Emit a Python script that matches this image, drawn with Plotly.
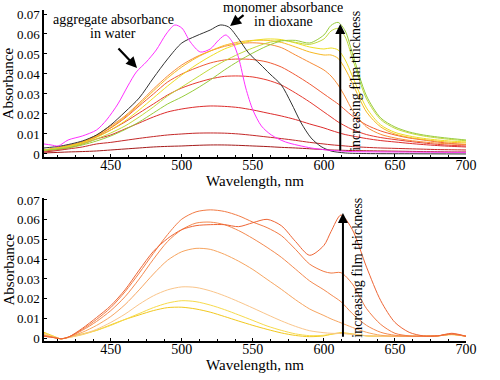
import plotly.graph_objects as go

# ---------------- data: top panel ----------------
WL_TOP = [403, 410, 420, 430, 440, 450, 460, 470, 480, 490, 500, 510, 520, 530, 540, 550,
          560, 570, 580, 590, 600, 605, 610, 615, 620, 630, 640, 650, 660, 670, 680, 690, 700]

FILM_1 = [0.0005, 0.0007, 0.001, 0.0012, 0.0015, 0.002, 0.0025, 0.003, 0.0035, 0.0038, 0.004, 0.0043,
          0.0045, 0.0045, 0.0043, 0.004, 0.0037, 0.0033, 0.003, 0.0026, 0.0022, 0.002, 0.0019, 0.0018,
          0.0017, 0.0016, 0.0015, 0.0014, 0.0013, 0.0012, 0.0011, 0.001, 0.001]
FILM_2 = [0.001, 0.0015, 0.0025, 0.0035, 0.005, 0.0058, 0.0068, 0.0078, 0.0087, 0.0095, 0.01, 0.0104,
          0.0105, 0.0104, 0.01, 0.0093, 0.0085, 0.0077, 0.0068, 0.0058, 0.005, 0.0046, 0.0043, 0.004,
          0.0037, 0.0033, 0.003, 0.0028, 0.0026, 0.0024, 0.0022, 0.0021, 0.002]
FILM_3 = [0.0015, 0.002, 0.003, 0.005, 0.0075, 0.0095, 0.0125, 0.0155, 0.0185, 0.021, 0.0225, 0.0235,
          0.024, 0.0238, 0.0232, 0.022, 0.0205, 0.019, 0.0172, 0.015, 0.013, 0.0118, 0.0107, 0.0097,
          0.009, 0.0077, 0.0067, 0.006, 0.0053, 0.0047, 0.0042, 0.0038, 0.0035]
FILM_4 = [0.002, 0.0025, 0.0035, 0.0055, 0.0085, 0.012, 0.016, 0.0205, 0.025, 0.0295, 0.033, 0.0355,
          0.0375, 0.0388, 0.039, 0.0385, 0.037, 0.0345, 0.0305, 0.026, 0.021, 0.0185, 0.016, 0.014,
          0.0122, 0.0097, 0.0082, 0.0072, 0.0063, 0.0055, 0.0048, 0.0043, 0.004]
FILM_5 = [0.002, 0.0025, 0.004, 0.006, 0.009, 0.013, 0.018, 0.024, 0.030, 0.036, 0.040, 0.043,
          0.0455, 0.047, 0.0475, 0.0472, 0.046, 0.0435, 0.0395, 0.035, 0.030, 0.0275, 0.025, 0.022,
          0.019, 0.0145, 0.0115, 0.0095, 0.008, 0.007, 0.006, 0.0052, 0.0047]
FILM_6 = [0.002, 0.0028, 0.0042, 0.006, 0.0095, 0.014, 0.019, 0.0255, 0.0325, 0.039, 0.0445, 0.0485,
          0.0515, 0.0538, 0.0552, 0.0556, 0.055, 0.0532, 0.0495, 0.0458, 0.042, 0.039, 0.0345, 0.0285,
          0.022, 0.0135, 0.0098, 0.008, 0.0068, 0.006, 0.0054, 0.005, 0.0047]
FILM_7 = [0.002, 0.0028, 0.004, 0.006, 0.009, 0.0133, 0.0185, 0.0248, 0.0315, 0.038, 0.0435, 0.048,
          0.0515, 0.0543, 0.056, 0.0568, 0.0568, 0.0558, 0.0535, 0.051, 0.0495, 0.0495, 0.0478, 0.0425,
          0.0355, 0.021, 0.0135, 0.010, 0.0083, 0.0072, 0.0064, 0.0058, 0.0055]
FILM_8 = [0.002, 0.0026, 0.0037, 0.0055, 0.0083, 0.012, 0.0165, 0.022, 0.028, 0.034, 0.0395, 0.0445,
          0.0488, 0.0525, 0.055, 0.0567, 0.0575, 0.0572, 0.0555, 0.0535, 0.0525, 0.053, 0.052, 0.047,
          0.039, 0.023, 0.0145, 0.0108, 0.009, 0.0078, 0.007, 0.0064, 0.006]
FILM_9 = [0.002, 0.0025, 0.0035, 0.005, 0.0075, 0.0105, 0.014, 0.0185, 0.0235, 0.029, 0.0335, 0.038,
          0.0425, 0.0465, 0.05, 0.053, 0.0555, 0.0568, 0.0558, 0.0548, 0.0575, 0.0615, 0.0628, 0.0585,
          0.048, 0.0275, 0.0172, 0.0128, 0.0105, 0.009, 0.008, 0.0072, 0.0066]
FILM_10 = [0.0018, 0.0022, 0.003, 0.0045, 0.0065, 0.009, 0.0122, 0.016, 0.0205, 0.025, 0.0285, 0.0325,
           0.037, 0.042, 0.0465, 0.0505, 0.054, 0.0565, 0.0568, 0.0555, 0.0595, 0.0643, 0.0658, 0.0615,
           0.0505, 0.029, 0.018, 0.0135, 0.011, 0.0095, 0.0085, 0.0077, 0.007]

TOP_FILMS = [FILM_1, FILM_2, FILM_3, FILM_4, FILM_5, FILM_6, FILM_7, FILM_8, FILM_9, FILM_10]
TOP_COLORS = ['#A51A1A', '#C42828', '#DD2C2C', '#E63A30', '#F05A35', '#F88C38',
              '#F8B820', '#EEDE22', '#C2DA3C', '#98CC3C']

WL_MONO = [403, 415, 430, 440, 450, 460, 470, 480, 490, 500, 510, 520, 527, 533, 540, 547, 555,
           562, 570, 577, 584, 591, 598, 605, 615, 630, 660, 700]
ABS_MONO = [0.003, 0.004, 0.0065, 0.0095, 0.0145, 0.021, 0.028, 0.038, 0.0475, 0.0555, 0.059, 0.062,
            0.0645, 0.0635, 0.0575, 0.0505, 0.045, 0.040, 0.0345, 0.0255, 0.0155, 0.008, 0.0037,
            0.0015, 0.0005, 0.0002, 0.0001, 0.0]

WL_AGG = [403, 408, 413, 420, 430, 440, 447, 455, 462, 468, 475, 482, 489, 495, 500, 506, 513, 520,
          526, 531, 536, 540, 545, 550, 556, 563, 573, 591, 605, 620, 650, 700]
ABS_AGG = [0.005, 0.0045, 0.004, 0.007, 0.009, 0.012, 0.017, 0.025, 0.034, 0.041, 0.046, 0.052, 0.060,
           0.0645, 0.063, 0.056, 0.051, 0.0525, 0.057, 0.0595, 0.0555, 0.048, 0.033, 0.022, 0.014,
           0.0095, 0.006, 0.003, 0.0018, 0.0012, 0.001, 0.0008]

# ---------------- data: bottom panel ----------------
WL_BOT = [403, 410, 415, 420, 430, 440, 450, 460, 470, 480, 490, 500, 510, 520, 530, 540, 550,
          560, 570, 580, 590, 600, 605, 612, 620, 630, 640, 650, 660, 670, 680, 690, 700]

BOT_1 = [0.003, 0.001, -0.0003, 0.0005, 0.0022, 0.004, 0.0068, 0.0095, 0.0118, 0.014, 0.0155, 0.0157,
         0.0148, 0.0132, 0.011, 0.0087, 0.0065, 0.0045, 0.0027, 0.0014, 0.0008, 0.0012, 0.002, 0.0028,
         0.0022, 0.0012, 0.001, 0.001, 0.001, 0.001, 0.0012, 0.0018, 0.001]
BOT_2 = [0.0025, 0.0008, -0.0003, 0.0003, 0.0018, 0.004, 0.0065, 0.0095, 0.0125, 0.0155, 0.0178, 0.019,
         0.0185, 0.0168, 0.0145, 0.0118, 0.009, 0.0062, 0.004, 0.0022, 0.0013, 0.0015, 0.002, 0.0025,
         0.002, 0.0012, 0.001, 0.001, 0.001, 0.001, 0.0012, 0.002, 0.001]
BOT_3 = [0.002, 0.0005, -0.0003, 0.0003, 0.002, 0.0045, 0.008, 0.0122, 0.0172, 0.0215, 0.0245, 0.026,
         0.0257, 0.024, 0.0215, 0.0185, 0.0153, 0.012, 0.0088, 0.006, 0.0038, 0.0028, 0.0025, 0.0024,
         0.002, 0.0013, 0.001, 0.001, 0.001, 0.001, 0.0012, 0.002, 0.001]
BOT_4 = [0.0015, 0.0004, -0.0003, 0.0005, 0.003, 0.0065, 0.011, 0.017, 0.0245, 0.0325, 0.0395, 0.0438,
         0.0455, 0.045, 0.0425, 0.039, 0.0348, 0.0298, 0.0248, 0.0195, 0.0148, 0.0115, 0.0098, 0.0078,
         0.0055, 0.003, 0.0015, 0.001, 0.001, 0.001, 0.0012, 0.002, 0.001]
BOT_5 = [0.0015, 0.0004, -0.0003, 0.0005, 0.004, 0.0085, 0.014, 0.021, 0.030, 0.040, 0.049, 0.055,
         0.0583, 0.0588, 0.0575, 0.0545, 0.0505, 0.046, 0.041, 0.035, 0.029, 0.0245, 0.022, 0.0185,
         0.0125, 0.0065, 0.003, 0.0015, 0.001, 0.001, 0.0012, 0.002, 0.001]
BOT_6 = [0.001, 0.0003, -0.0003, 0.0005, 0.0045, 0.0095, 0.0155, 0.0235, 0.033, 0.043, 0.0525, 0.0603,
         0.064, 0.065, 0.0642, 0.062, 0.0588, 0.056, 0.052, 0.045, 0.0375, 0.0338, 0.033, 0.0332,
         0.0275, 0.015, 0.007, 0.0025, 0.0012, 0.001, 0.0012, 0.0022, 0.001]
BOT_7 = [0.001, 0.0003, -0.0003, 0.0005, 0.005, 0.0105, 0.0165, 0.0245, 0.0345, 0.044, 0.0505, 0.055,
         0.057, 0.0575, 0.0575, 0.0565, 0.0585, 0.0602, 0.057, 0.049, 0.042, 0.047, 0.054, 0.0624,
         0.055, 0.036, 0.019, 0.008, 0.003, 0.0012, 0.0012, 0.0025, 0.001]

BOT_FILMS = [BOT_1, BOT_2, BOT_3, BOT_4, BOT_5, BOT_6, BOT_7]
BOT_COLORS = ['#F2C81E', '#F7DA4A', '#FAC58A', '#F7A560', '#F48A50', '#F27B45', '#EE6535']

X_TICKS = [450, 500, 550, 600, 650, 700]
Y_TICKS = [0, 0.01, 0.02, 0.03, 0.04, 0.05, 0.06, 0.07]
Y_LABELS = ['0', '0.01', '0.02', '0.03', '0.04', '0.05', '0.06', '0.07']

FONT = '"Liberation Serif", "Times New Roman", Times, "DejaVu Serif", serif'

fig = go.Figure()

for vals, col in zip(TOP_FILMS, TOP_COLORS):
    fig.add_trace(go.Scatter(x=WL_TOP, y=vals, mode='lines', xaxis='x', yaxis='y',
                             line=dict(color=col, width=1, shape='spline', smoothing=0.8),
                             showlegend=False, hoverinfo='skip'))
fig.add_trace(go.Scatter(x=WL_MONO, y=ABS_MONO, mode='lines', xaxis='x', yaxis='y',
                         line=dict(color='#333333', width=1, shape='spline', smoothing=0.8),
                         showlegend=False, hoverinfo='skip'))
fig.add_trace(go.Scatter(x=WL_AGG, y=ABS_AGG, mode='lines', xaxis='x', yaxis='y',
                         line=dict(color='#FF30FF', width=1, shape='spline', smoothing=0.8),
                         showlegend=False, hoverinfo='skip'))

for vals, col in zip(BOT_FILMS, BOT_COLORS):
    fig.add_trace(go.Scatter(x=WL_BOT, y=vals, mode='lines', xaxis='x2', yaxis='y2',
                             line=dict(color=col, width=1, shape='spline', smoothing=0.8),
                             showlegend=False, hoverinfo='skip'))

xcommon = dict(range=[403, 700], tickvals=X_TICKS, ticks='inside', ticklen=3, tickcolor='black',
               showline=True, linecolor='black', linewidth=2, showgrid=False, zeroline=False,
               tickfont=dict(family=FONT, size=14, color='black'),
               minor=dict(ticks='inside', dtick=12.5, tick0=400, ticklen=2, tickcolor='black'),
               ticklabelstandoff=-6, automargin=False)
ycommon = dict(tickvals=Y_TICKS, ticktext=Y_LABELS, ticks='inside', ticklen=3, tickcolor='black',
               showline=True, linecolor='black', linewidth=1.5, showgrid=False, zeroline=False,
               tickfont=dict(family=FONT, size=13, color='black'), automargin=False)

fig.update_layout(
    width=500, height=380,
    margin=dict(l=44, r=34, t=10, b=39),
    paper_bgcolor='white', plot_bgcolor='white',
    font=dict(family=FONT, color='black'),
    xaxis=dict(anchor='y', domain=[0, 1],
               title=dict(text='Wavelength, nm', font=dict(family=FONT, size=15), standoff=0),
               **xcommon),
    yaxis=dict(anchor='x', domain=[0.556, 1], range=[-0.0015, 0.072], **ycommon),
    xaxis2=dict(anchor='y2', domain=[0, 1],
                title=dict(text='Wavelength, nm', font=dict(family=FONT, size=15), standoff=0),
                **xcommon),
    yaxis2=dict(anchor='x2', domain=[0, 0.432], range=[-0.0014, 0.071], **ycommon),
)

afont = dict(family=FONT, size=14, color='black')
tfont = dict(family=FONT, size=15, color='black')
annotations = [
    # y-axis titles
    dict(x=-0.083, y=0.778, xref='paper', yref='paper', text='Absorbance', textangle=-90,
         showarrow=False, font=tfont, xanchor='center', yanchor='middle'),
    dict(x=-0.083, y=0.216, xref='paper', yref='paper', text='Absorbance', textangle=-90,
         showarrow=False, font=tfont, xanchor='center', yanchor='middle'),
    # top panel notes
    dict(x=451.6, y=0.0675, xref='x', yref='y', text='aggregate absorbance', showarrow=False, font=afont),
    dict(x=451.6, y=0.0603, xref='x', yref='y', text='in water', showarrow=False, font=afont),
    dict(x=468.5, y=0.043, xref='x', yref='y', ax=454.4, ay=0.0535, axref='x', ayref='y',
         text='', showarrow=True, arrowhead=2, arrowsize=1, arrowwidth=2.2, arrowcolor='black'),
    dict(x=571.3, y=1.009, xref='x', yref='paper', text='monomer absorbance', showarrow=False,
         font=afont, yanchor='middle'),
    dict(x=571.3, y=0.0662, xref='x', yref='y', text='in dioxane', showarrow=False, font=afont),
    dict(x=534.0, y=0.064, xref='x', yref='y', ax=544.5, ay=0.070, axref='x', ayref='y',
         text='', showarrow=True, arrowhead=2, arrowsize=1, arrowwidth=2.2, arrowcolor='black'),
    dict(x=611.5, y=0.065, xref='x', yref='y', ax=611.5, ay=0.001, axref='x', ayref='y',
         text='', showarrow=True, arrowhead=2, arrowsize=1, arrowwidth=2, arrowcolor='black'),
    dict(x=622.5, y=0.0365, xref='x', yref='y', text='increasing film thickness', textangle=-90,
         showarrow=False, font=afont),
    # bottom panel note
    dict(x=613.4, y=0.0634, xref='x2', yref='y2', ax=613.4, ay=0.0, axref='x2', ayref='y2',
         text='', showarrow=True, arrowhead=2, arrowsize=1, arrowwidth=2, arrowcolor='black'),
    dict(x=623.8, y=0.0356, xref='x2', yref='y2', text='increasing film thickness', textangle=-90,
         showarrow=False, font=afont),
]
fig.update_layout(annotations=annotations)

fig.write_html('out.html', config={'displayModeBar': False},
               post_script="document.body.style.margin='0';")
